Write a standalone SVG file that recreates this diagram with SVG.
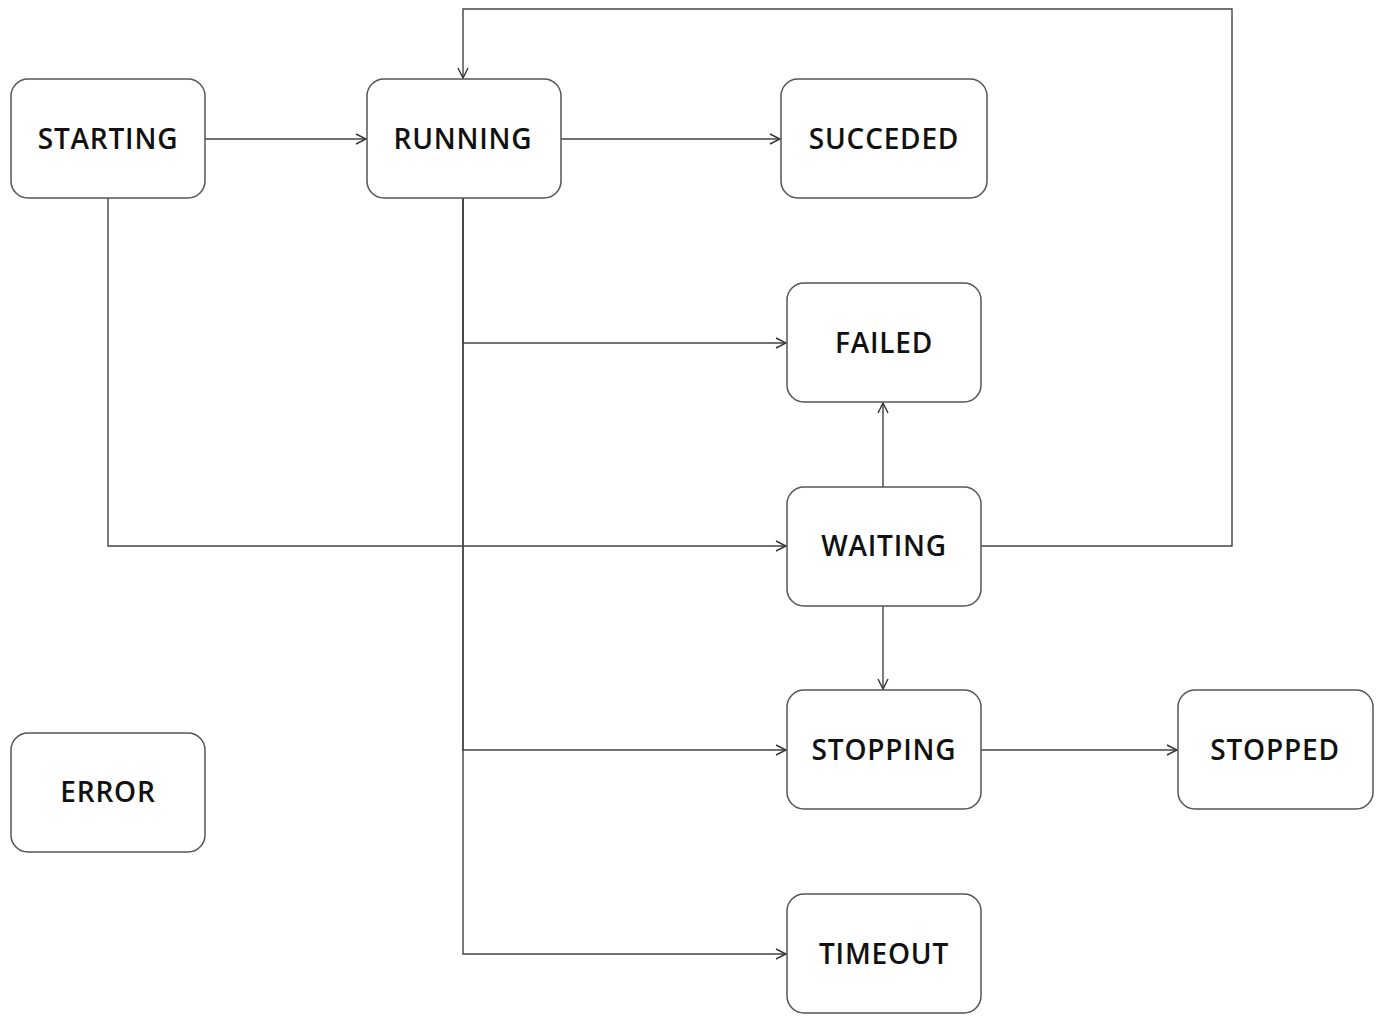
<svg xmlns="http://www.w3.org/2000/svg" width="1377" height="1017" viewBox="0 0 1377 1017">
<style>
.n rect{fill:#fff;stroke:#555;stroke-width:1.5}
.n text{font-family:"Open Sans","Noto Sans",sans-serif;font-size:28px;font-weight:600;letter-spacing:0.8px;fill:#111;text-anchor:middle;dominant-baseline:central}
.c path{fill:none;stroke:#444;stroke-width:1.4}
</style>
<defs>
<marker id="a" viewBox="0 0 12 12" refX="11" refY="6" markerWidth="12" markerHeight="12" markerUnits="userSpaceOnUse" orient="auto">
<path d="M1,1 L11,6 L1,11" fill="none" stroke="#333" stroke-width="1.4"/>
</marker>
</defs>
<rect width="1377" height="1017" fill="#fff"/>
<g class="c" id="connectors">
<path d="M205,139 H366" marker-end="url(#a)"/>
<path d="M561,139 H780" marker-end="url(#a)"/>
<path d="M463,198 V343 H786" marker-end="url(#a)"/>
<path d="M463,198 V750 H786" marker-end="url(#a)"/>
<path d="M463,198 V954 H786" marker-end="url(#a)"/>
<path d="M108,198 V546 H786" marker-end="url(#a)"/>
<path d="M883,487 V403" marker-end="url(#a)"/>
<path d="M883,606 V689" marker-end="url(#a)"/>
<path d="M981,750 H1177" marker-end="url(#a)"/>
<path d="M981,546 H1232 V9 H463 V78" marker-end="url(#a)"/>
</g>
<g class="n" id="starting"><rect x="11" y="79" width="194" height="119" rx="17"/><text x="108" y="138">STARTING</text></g>
<g class="n" id="running"><rect x="367" y="79" width="194" height="119" rx="17"/><text x="463" y="138">RUNNING</text></g>
<g class="n" id="succeded"><rect x="781" y="79" width="206" height="119" rx="17"/><text x="884" y="138">SUCCEDED</text></g>
<g class="n" id="failed"><rect x="787" y="283" width="194" height="119" rx="17"/><text x="884" y="342">FAILED</text></g>
<g class="n" id="waiting"><rect x="787" y="487" width="194" height="119" rx="17"/><text x="884" y="545">WAITING</text></g>
<g class="n" id="stopping"><rect x="787" y="690" width="194" height="119" rx="17"/><text x="884" y="749">STOPPING</text></g>
<g class="n" id="stopped"><rect x="1178" y="690" width="195" height="119" rx="17"/><text x="1275" y="749">STOPPED</text></g>
<g class="n" id="error"><rect x="11" y="733" width="194" height="119" rx="17"/><text x="108" y="791">ERROR</text></g>
<g class="n" id="timeout"><rect x="787" y="894" width="194" height="119" rx="17"/><text x="884" y="953">TIMEOUT</text></g>
</svg>
